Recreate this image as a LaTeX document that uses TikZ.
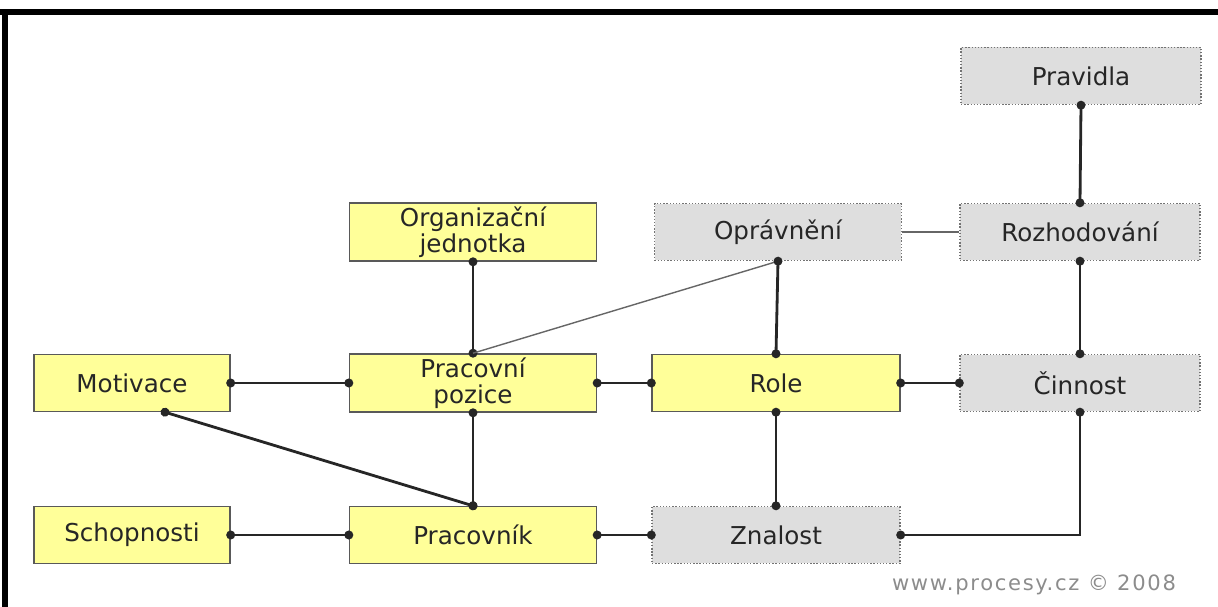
\documentclass[tikz,border=0pt]{standalone}
\usepackage{fontspec}
\setmainfont{DejaVu Sans}
\usetikzlibrary{positioning}
\usetikzlibrary{arrows.meta}
\definecolor{boxyellow}{RGB}{255,255,153}
\definecolor{boxgray}{RGB}{222,222,222}
\tikzset{
    nodey/.style = {rectangle, thick, draw=black!65, fill=boxyellow, align=center, minimum height=1.14cm, inner sep=2pt, font=\fontsize{14}{15}\selectfont, text=black!85},
    nodeg/.style = {rectangle, thick, draw=black!55, densely dotted, fill=boxgray, align=center, minimum height=1.14cm, inner sep=2pt, font=\fontsize{14}{15}\selectfont, text=black!85},
    edgen/.style = {{Circle[length=5pt]}-{Circle[length=5pt]}, line width=1.6pt, black!85, shorten <=-2.5pt, shorten >=-2.5pt},
    edgeg/.style = {-, line width=0.8pt, black!60},
    frame/.style = {line width=3pt, black}
}

\begin{document}
\begin{tikzpicture}[x=0.02cm, y=-0.02cm]
  \useasboundingbox (0,0) rectangle (1218,607);
  \draw[frame] (0,12) -- (5,12) -- (5,607);
  \draw[frame] (5,12) -- (1218,12);

  % top row
  \node[nodeg, minimum width=4.8cm] (prav) at (1081,76) {Pravidla};
  \node[nodey, minimum width=4.94cm] (org) at (473,232) {Organizační\\jednotka};
  \node[nodeg, minimum width=4.94cm] (opr) at (778,232) {Oprávnění};
  \node[nodeg, minimum width=4.8cm] (roz) at (1080,232) {Rozhodování};
  % middle row
  \node[nodey, minimum width=3.92cm] (mot) at (132,383) {Motivace};
  \node[nodey, minimum width=4.94cm] (poz) at (473,383) {Pracovní\\pozice};
  \node[nodey, minimum width=4.96cm] (role) at (776,383) {Role};
  \node[nodeg, minimum width=4.8cm] (cin) at (1080,383) {Činnost};
  % bottom row
  \node[nodey, minimum width=3.92cm] (sch) at (132,535) {Schopnosti};
  \node[nodey, minimum width=4.94cm] (prac) at (473,535) {Pracovník};
  \node[nodeg, minimum width=4.96cm] (zna) at (776,535) {Znalost};

  \node[text=black!45, font=\fontsize{12}{13}\selectfont\addfontfeatures{LetterSpace=8}] (www) at (1034,585) {www.procesy.cz © 2008};

  \draw[edgen] (prav.south) -- (roz.north);
  \draw[edgen] (roz.south) -- (cin.north);
  \draw[edgeg] (opr.east) -- (roz.west);
  \draw[edgen] (org.south) -- (poz.north);
  \draw[edgeg] (opr.south) -- (poz.north);
  \draw[edgen] (opr.south) -- (role.north);
  \draw[edgen] (mot.east) -- (poz.west);
  \draw[edgen] (poz.east) -- (role.west);
  \draw[edgen] (role.east) -- (cin.west);
  \draw[edgen] (poz.south) -- (prac.north);
  \draw[edgen] ([xshift=0.66cm]mot.south) -- (prac.north);
  \draw[edgen] (role.south) -- (zna.north);
  \draw[edgen] (sch.east) -- (prac.west);
  \draw[edgen] (prac.east) -- (zna.west);
  \draw[edgen] (zna.east) -| (cin.south);
\end{tikzpicture}
\end{document}
